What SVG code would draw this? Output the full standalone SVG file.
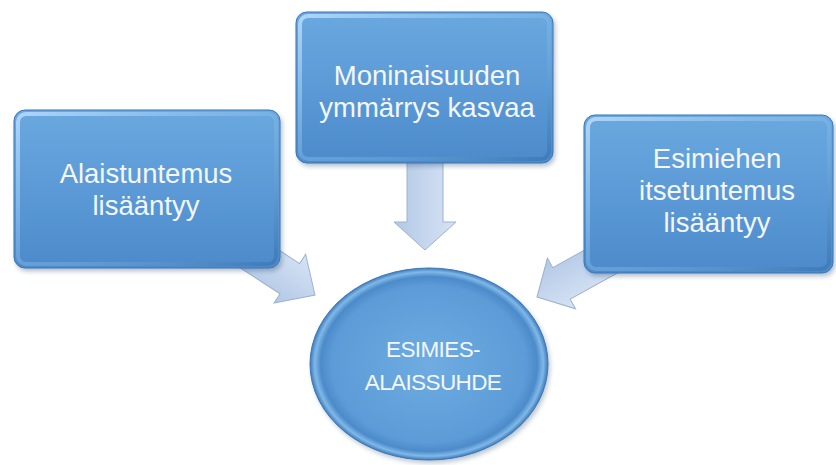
<svg xmlns="http://www.w3.org/2000/svg" width="836" height="465" viewBox="0 0 836 465">
  <defs>
    <linearGradient id="boxFill" x1="0" y1="0" x2="0" y2="1">
      <stop offset="0" stop-color="#6aa8df"/>
      <stop offset="0.5" stop-color="#5b9ad6"/>
      <stop offset="1" stop-color="#4c8acb"/>
    </linearGradient>
    <linearGradient id="bevel" x1="0" y1="0" x2="1" y2="1">
      <stop offset="0" stop-color="#b5dafa" stop-opacity="0.9"/>
      <stop offset="0.5" stop-color="#8cc0ec" stop-opacity="0.4"/>
      <stop offset="1" stop-color="#3a74b2" stop-opacity="0.7"/>
    </linearGradient>
    <radialGradient id="ellFill" cx="0.5" cy="0.5" r="0.5">
      <stop offset="0" stop-color="#6eace1"/>
      <stop offset="0.82" stop-color="#5c9bd7"/>
      <stop offset="0.91" stop-color="#4c8aca"/>
      <stop offset="0.96" stop-color="#80b9e8"/>
      <stop offset="1" stop-color="#3f7bbb"/>
    </radialGradient>
    <linearGradient id="arrowFill" x1="0" y1="0" x2="0" y2="1">
      <stop offset="0" stop-color="#d6e3f4"/>
      <stop offset="1" stop-color="#b3c8e6"/>
    </linearGradient>
    <filter id="shadow" x="-10%" y="-10%" width="120%" height="130%">
      <feGaussianBlur stdDeviation="2.5"/>
    </filter>
  </defs>
  <style>
    .box { fill: url(#boxFill); stroke: #3d78b6; stroke-width: 1; }
    .bev { fill: none; stroke: url(#bevel); stroke-width: 4; }
    .shd { fill: #1f3f66; opacity: 0.35; filter: url(#shadow); }
    .arrow { fill: url(#arrowFill); stroke: #9cb1cf; stroke-width: 1; }
    .lbl { font-family: "Liberation Sans", Arial, sans-serif; font-size: 27.5px; fill: #f3f7fc; text-anchor: middle; }
    .elbl { font-family: "Liberation Sans", Arial, sans-serif; font-size: 22.5px; letter-spacing: -0.6px; fill: #f3f7fc; text-anchor: middle; }
  </style>

  <g id="connectors">
    <polygon class="arrow" transform="translate(315,295) rotate(33)" points="0,0 -30,-29 -30,-18 -100,-18 -100,18 -30,18 -30,29"/>
    <polygon class="arrow" transform="translate(425,250) rotate(90)" points="0,0 -28,-31 -28,-18 -95,-18 -95,18 -28,18 -28,31"/>
    <polygon class="arrow" transform="translate(537,297) rotate(151)" points="0,0 -28,-29 -28,-18 -100,-18 -100,18 -28,18 -28,29"/>
  </g>

  <g id="node-left">
    <rect class="shd" x="16" y="113" width="266" height="158" rx="11"/>
    <rect class="box" x="14" y="110" width="266" height="158" rx="11"/>
    <rect class="bev" x="18" y="114" width="258" height="150" rx="8"/>
    <text class="lbl" x="146" y="183">Alaistuntemus</text>
    <text class="lbl" x="146" y="215">lisääntyy</text>
  </g>

  <g id="node-top">
    <rect class="shd" x="298" y="15" width="257" height="151" rx="11"/>
    <rect class="box" x="296" y="12" width="257" height="151" rx="11"/>
    <rect class="bev" x="300" y="16" width="249" height="143" rx="8"/>
    <text class="lbl" x="427" y="85">Moninaisuuden</text>
    <text class="lbl" x="427" y="117">ymmärrys kasvaa</text>
  </g>

  <g id="node-right">
    <rect class="shd" x="586" y="118" width="249" height="158" rx="11"/>
    <rect class="box" x="584" y="115" width="249" height="158" rx="11"/>
    <rect class="bev" x="588" y="119" width="241" height="150" rx="8"/>
    <text class="lbl" x="717" y="168">Esimiehen</text>
    <text class="lbl" x="717" y="200">itsetuntemus</text>
    <text class="lbl" x="717" y="232">lisääntyy</text>
  </g>

  <g id="node-center">
    <ellipse cx="431" cy="367" rx="119" ry="96" fill="#1f3f66" opacity="0.3" filter="url(#shadow)"/>
    <ellipse cx="429" cy="364" rx="119" ry="96" fill="url(#ellFill)" stroke="#3d78b6" stroke-width="1"/>
    <text class="elbl" x="433" y="357">ESIMIES-</text>
    <text class="elbl" x="433" y="390">ALAISSUHDE</text>
  </g>
</svg>
